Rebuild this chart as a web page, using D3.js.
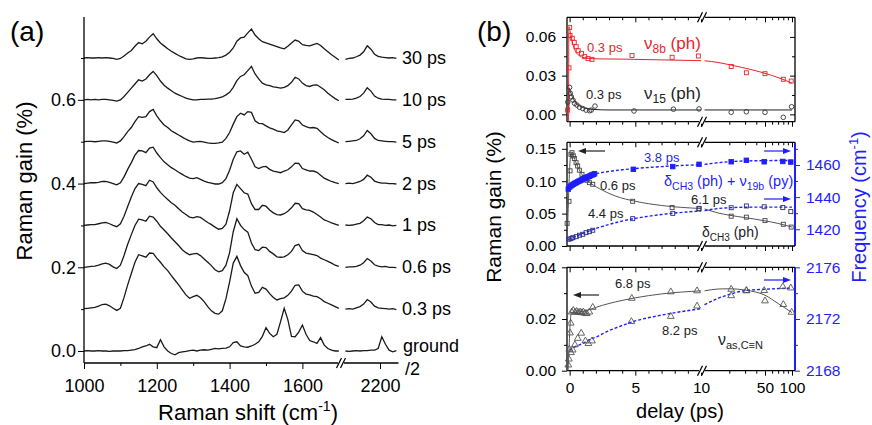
<!DOCTYPE html>
<html>
<head>
<meta charset="utf-8">
<script src="https://cdn.jsdelivr.net/npm/d3@7"></script>
<style>
body { margin: 0; background: #fff; }
svg text { font-family: "Liberation Sans", Arial, sans-serif; }
</style>
</head>
<body>
<div id="chart"></div>
<script>
///////////// Data: panel (a) spectra //////////////
// gain above each trace's baseline (%), read every 10 cm-1
var shift_left = d3.range(1000, 1701, 10);   // 1000..1700
var shift_right = d3.range(2105, 2251, 10);  // 2105..2245

var trace_labels = ['ground', '0.3 ps', '0.6 ps', '1 ps', '2 ps', '5 ps', '10 ps', '30 ps'];
var trace_offsets = [0.0, 0.1, 0.2, 0.3, 0.4, 0.5, 0.6, 0.7];

var g0L = [
0.000,0.001,0.000,0.000,0.001,0.000,0.000,-0.001,0.000,0.000,
0.000,0.001,0.001,0.002,0.003,0.006,0.010,0.012,0.016,0.010,
0.008,0.027,0.010,0.000,-0.006,-0.009,-0.004,-0.002,-0.001,0.001,
0.002,0.000,0.002,0.003,0.002,0.004,0.006,0.005,0.006,0.007,
0.010,0.020,0.022,0.012,0.010,0.009,0.012,0.016,0.022,0.035,
0.056,0.042,0.034,0.040,0.070,0.102,0.075,0.035,0.034,0.045,
0.062,0.040,0.025,0.022,0.018,0.032,0.014,0.006,0.002,0.000,
0.000];
var t03L = [
0.001,0.002,0.003,0.004,0.007,0.011,0.012,0.008,0.002,-0.003,
0.002,0.028,0.058,0.085,0.112,0.130,0.127,0.124,0.134,0.133,
0.122,0.112,0.101,0.092,0.080,0.069,0.058,0.046,0.034,0.026,
0.030,0.033,0.027,0.018,0.006,-0.004,-0.010,-0.012,-0.004,0.025,
0.065,0.110,0.126,0.104,0.088,0.080,0.055,0.038,0.040,0.052,
0.048,0.037,0.028,0.022,0.025,0.027,0.033,0.043,0.057,0.058,
0.043,0.036,0.034,0.031,0.030,0.025,0.018,0.014,0.010,0.006,
0.002];
var t06L = [
0.000,0.001,0.002,0.003,0.005,0.008,0.010,0.007,0.001,-0.003,
0.005,0.028,0.055,0.078,0.100,0.115,0.113,0.110,0.122,0.120,
0.110,0.098,0.089,0.080,0.070,0.061,0.052,0.042,0.035,0.030,
0.032,0.033,0.028,0.020,0.012,0.004,-0.006,-0.011,-0.008,0.005,
0.035,0.085,0.116,0.100,0.090,0.084,0.058,0.042,0.040,0.048,
0.047,0.038,0.032,0.025,0.024,0.025,0.030,0.038,0.052,0.055,
0.040,0.034,0.032,0.030,0.028,0.022,0.018,0.014,0.010,0.005,
0.002];
var t1L = [
0.000,0.001,0.002,0.002,0.004,0.006,0.007,0.004,0.000,-0.003,
0.004,0.022,0.045,0.068,0.088,0.100,0.098,0.095,0.108,0.104,
0.090,0.079,0.070,0.062,0.054,0.048,0.040,0.032,0.026,0.020,
0.018,0.021,0.019,0.013,0.007,0.002,-0.004,-0.009,-0.007,0.003,
0.035,0.078,0.098,0.088,0.078,0.075,0.052,0.038,0.038,0.048,
0.046,0.037,0.030,0.026,0.025,0.028,0.034,0.042,0.053,0.052,
0.040,0.037,0.036,0.032,0.026,0.020,0.013,0.010,0.006,0.003,
0.000];
var t2L = [
0.000,0.001,0.002,0.002,0.003,0.005,0.005,0.003,0.000,-0.003,
0.002,0.016,0.034,0.050,0.068,0.079,0.078,0.074,0.085,0.087,
0.073,0.062,0.052,0.045,0.038,0.033,0.027,0.022,0.017,0.013,
0.012,0.014,0.010,0.006,0.003,0.001,-0.001,-0.001,0.002,0.012,
0.032,0.058,0.076,0.078,0.070,0.075,0.058,0.040,0.036,0.040,
0.041,0.034,0.030,0.028,0.026,0.030,0.033,0.040,0.049,0.048,
0.036,0.033,0.030,0.030,0.027,0.020,0.013,0.009,0.005,0.002,
0.000];
var t5L = [
0.000,0.001,0.001,0.000,0.001,0.002,0.002,0.001,-0.001,-0.003,
0.002,0.012,0.024,0.034,0.048,0.060,0.058,0.060,0.072,0.077,
0.062,0.050,0.040,0.034,0.026,0.021,0.016,0.011,0.006,0.002,
-0.001,0.000,0.001,-0.001,-0.003,-0.004,-0.004,-0.003,-0.001,0.008,
0.022,0.042,0.060,0.068,0.064,0.072,0.070,0.050,0.044,0.043,
0.038,0.033,0.030,0.026,0.024,0.022,0.028,0.040,0.052,0.050,
0.040,0.036,0.033,0.034,0.032,0.024,0.016,0.010,0.005,0.001,
-0.003];
var t10L = [
0.000,0.001,0.000,0.001,0.000,0.001,0.001,0.000,-0.001,-0.003,
0.000,0.008,0.018,0.028,0.038,0.048,0.045,0.050,0.060,0.068,
0.058,0.045,0.035,0.028,0.022,0.016,0.012,0.008,0.004,0.002,
0.000,0.000,0.001,0.001,0.002,0.002,0.003,0.005,0.007,0.012,
0.018,0.030,0.046,0.056,0.060,0.070,0.080,0.062,0.050,0.040,
0.036,0.034,0.031,0.030,0.028,0.030,0.034,0.042,0.054,0.050,
0.040,0.034,0.032,0.035,0.036,0.030,0.024,0.016,0.009,0.003,
-0.002];
var t30L = [
0.000,0.001,0.000,0.000,0.001,0.000,0.001,0.000,-0.001,-0.003,
-0.001,0.005,0.012,0.018,0.028,0.037,0.034,0.040,0.050,0.058,
0.046,0.036,0.029,0.022,0.016,0.011,0.006,0.002,-0.002,-0.003,
-0.002,0.000,0.001,0.000,-0.001,-0.001,0.000,0.001,0.003,0.007,
0.014,0.024,0.040,0.048,0.050,0.060,0.069,0.055,0.046,0.039,
0.036,0.033,0.030,0.027,0.024,0.022,0.028,0.036,0.043,0.040,
0.032,0.030,0.029,0.032,0.035,0.030,0.022,0.015,0.008,0.002,
-0.005];

var g0R  = [0.000,-0.001,0.000,0.001,0.000,0.001,0.001,0.002,0.002,0.006,0.034,0.016,0.002,-0.002,0.001];
var t03R = [0.000,0.001,0.000,0.003,0.006,0.012,0.023,0.017,0.007,0.003,0.002,0.001,0.000,0.001,-0.001];
var t06R = [0.000,0.001,0.001,0.002,0.005,0.011,0.021,0.015,0.006,0.003,0.001,0.002,0.000,0.000,-0.001];
var t1R  = [0.001,0.000,0.001,0.003,0.005,0.011,0.020,0.016,0.007,0.002,0.002,0.000,0.001,-0.001,0.000];
var t2R  = [0.000,0.001,0.000,0.002,0.005,0.010,0.020,0.015,0.006,0.003,0.001,0.001,0.000,0.000,-0.001];
var t5R  = [0.000,0.001,0.002,0.003,0.007,0.014,0.027,0.019,0.008,0.003,0.002,0.001,0.000,0.000,-0.001];
var t10R = [0.001,0.001,0.002,0.004,0.008,0.016,0.029,0.021,0.009,0.004,0.002,0.001,0.001,0.000,0.000];
var t30R = [-0.003,-0.001,0.000,0.003,0.007,0.015,0.029,0.021,0.009,0.004,0.002,0.001,0.000,0.001,-0.001];

var left_sets = [g0L, t03L, t06L, t1L, t2L, t5L, t10L, t30L];
var right_sets = [g0R, t03R, t06R, t1R, t2R, t5R, t10R, t30R];

///////////// Data: panel (b) kinetics //////////////
// [delay (ps), value]
var nu8b_pts = [[-0.15,0.0033],[-0.05,0.036],[0.0,0.0674],[0.03,0.0612],[0.2,0.059],[0.35,0.0558],[0.5,0.0524],[0.65,0.0493],[0.9,0.0473],[1.15,0.0447],[1.4,0.0432],[1.7,0.0426],[4.75,0.0456],[7.8,0.0442],[9.8,0.0452],[21,0.0371],[31,0.0322],[50,0.0315],[80,0.0272],[98,0.0258]];
var nu8b_fit_l = [[-0.08,-0.0057],[-0.06,0.068],[0.1,0.061],[0.2,0.056],[0.35,0.051],[0.5,0.048],[0.8,0.045],[1.2,0.0437],[2,0.043],[4,0.0428],[7,0.0422],[10,0.0416]];
var nu8b_fit_r = [[10.6,0.0415],[15,0.0402],[20,0.0385],[30,0.0358],[50,0.0318],[70,0.0285],[100,0.0242]];

var nu15_pts = [[-0.14,0.0095],[0.0,0.0209],[0.05,0.0163],[0.13,0.0135],[0.26,0.011],[0.38,0.0085],[0.55,0.0072],[0.75,0.0055],[1.0,0.0045],[1.25,0.0033],[1.52,0.0028],[1.65,0.0033],[1.93,0.0064],[4.9,0.0026],[7.9,0.004],[9.85,0.0042],[21,0.0016],[31,0.002],[50,0.0016],[80,-0.0023],[99,0.0059]];
var nu15_fit_l = [[-0.06,0.0034],[-0.04,0.0205],[0.1,0.0165],[0.2,0.0138],[0.3,0.0117],[0.5,0.0088],[0.8,0.0063],[1.2,0.0047],[1.8,0.0038],[3,0.0034],[10,0.0034]];
var nu15_fit_r = [[10.6,0.0034],[100,0.0034]];

var ch3_gain_pts = [[-0.19,0.035],[-0.05,0.069],[0.03,0.116],[0.1,0.1415],[0.18,0.144],[0.28,0.139],[0.36,0.135],[0.49,0.1286],[0.61,0.1235],[0.74,0.117],[0.94,0.1106],[1.12,0.1054],[1.32,0.1014],[1.5,0.0977],[1.76,0.0952],[4.8,0.069],[7.8,0.0595],[9.85,0.0572],[21,0.046],[31,0.0445],[50,0.0392],[80,0.0335],[98,0.0292]];
var ch3_gain_fit_l = [[-0.2,0.003],[-0.12,0.05],[-0.02,0.11],[0.1,0.143],[0.3,0.138],[0.5,0.128],[0.8,0.115],[1.2,0.104],[1.6,0.097],[2.5,0.086],[3.5,0.077],[5,0.069],[7,0.0625],[10,0.0578]];
var ch3_gain_fit_r = [[10.6,0.0572],[15,0.051],[20,0.0475],[30,0.0438],[50,0.0388],[70,0.0348],[100,0.0292]];

var mix_freq_pts = [[-0.1,1445.0],[0,1446.3],[0.1,1447.0],[0.2,1447.6],[0.3,1448.1],[0.4,1448.6],[0.5,1449.0],[0.6,1449.5],[0.7,1449.9],[0.8,1450.3],[0.9,1450.7],[1.0,1451.1],[1.1,1451.5],[1.2,1451.9],[1.3,1452.3],[1.4,1452.7],[1.5,1453.0],[1.6,1453.4],[1.7,1453.8],[1.8,1454.1],[1.9,1454.5],[4.85,1457.3],[7.85,1459.0],[9.85,1460.4],[21,1462.0],[31,1462.9],[49,1462.0],[79,1462.2],[97,1461.8]];
var mix_freq_fit_l = [[0,1446],[0.5,1449],[1,1451],[2,1454.4],[3,1456],[4,1457],[5,1457.8],[7,1459],[10,1460.2]];
var mix_freq_fit_r = [[10.6,1460.4],[15,1461.4],[20,1462],[30,1462.5],[50,1462.7],[100,1462.8]];

var ch3_freq_pts = [[-0.05,1413.8],[0.1,1414.2],[0.25,1414.8],[0.5,1415.4],[0.75,1416.3],[1.0,1416.9],[1.25,1417.9],[1.5,1418.5],[1.76,1419.4],[4.8,1426.6],[7.85,1429.9],[9.85,1433.0],[21,1433.4],[31,1434.5],[49,1434.0],[79,1433.5],[97,1431.0]];
var ch3_freq_fit_l = [[-0.1,1413.6],[1,1417.4],[2,1420.5],[3,1423],[4,1425.1],[5,1426.8],[6,1428.1],[7,1429.2],[8,1430.1],[10,1431.4]];
var ch3_freq_fit_r = [[10.6,1431.6],[15,1432.9],[20,1433.4],[30,1433.7],[50,1433.8],[100,1433.8]];

var cn_gain_pts = [[-0.1,0.0022],[-0.06,0.0045],[-0.02,0.0083],[0.03,0.0146],[0.08,0.0184],[0.16,0.0227],[0.28,0.0233],[0.42,0.0226],[0.54,0.0229],[0.68,0.0225],[0.8,0.0227],[0.92,0.0224],[1.04,0.0227],[1.18,0.0222],[1.3,0.0221],[1.5,0.0227],[1.76,0.0245],[4.73,0.028],[7.7,0.0305],[9.7,0.0309],[21,0.0315],[31,0.0309],[50,0.027],[80,0.0256],[99,0.0226]];
var cn_gain_fit_l = [[-0.12,0.0],[-0.05,0.008],[0.05,0.019],[0.15,0.0225],[0.5,0.0226],[1,0.0229],[1.5,0.0236],[2,0.0245],[3,0.026],[4,0.0272],[5,0.0282],[7,0.0297],[10,0.0309]];
var cn_gain_fit_r = [[10.6,0.0309],[15,0.0316],[20,0.0317],[30,0.0312],[50,0.0292],[70,0.026],[100,0.0225]];

var cn_freq_pts = [[0.1,2169.4],[0.23,2169.6],[0.4,2170.0],[0.62,2170.5],[0.88,2170.9],[1.2,2170.3],[1.43,2170.1],[1.7,2170.3],[4.7,2171.8],[7.7,2172.2],[9.7,2173.0],[21,2173.8],[31,2174.2],[49,2174.2],[79,2174.5],[97,2174.4]];
var cn_freq_fit_l = [[0,2169.6],[0.5,2169.9],[1,2170.1],[1.5,2170.4],[2,2170.6],[3,2171.1],[4,2171.5],[5,2171.85],[7,2172.3],[10,2172.8]];
var cn_freq_fit_r = [[10.6,2173.1],[15,2173.6],[20,2173.9],[30,2174.2],[50,2174.3],[100,2174.4]];

///////////// Setup //////////////
const RED = '#e8232b', BLUE = '#1e1eff', GRAY = '#555';

var svg = d3.select('#chart').append('svg')
  .attr('width', 872)
  .attr('height', 425);

function rich(g, x, y, parts, fill){
  var t = g.append('text').attr('x', x).attr('y', y).attr('fill', fill);
  parts.forEach(function(p){
    t.append('tspan').attr('font-size', p[1]).attr('dy', p[2] || 0).text(p[0]);
  });
  return t;
}

function breakMark(g, x, y){
  g.append('rect').attr('x', x - 3).attr('y', y - 2).attr('width', 6).attr('height', 4).attr('fill', '#fff');
  [-2, 2].forEach(function(dx){
    g.append('line').attr('x1', x + dx - 2.5).attr('y1', y + 5).attr('x2', x + dx + 2.5).attr('y2', y - 5)
      .attr('stroke', '#000').attr('stroke-width', 1.2);
  });
}

///////////// Panel (a) //////////////
var a_xl = d3.scaleLinear().domain([1000, 1700]).range([84, 338.8]);
var a_xr = d3.scaleLinear().domain([2100, 2250]).range([343.6, 398.2]);
var a_y = d3.scaleLinear().domain([-0.0287, 0.798]).range([363, 17]);

var pa = svg.append('g').attr('class', 'panel_a');

var lineL = d3.line().x(d => a_xl(d[0])).y(d => a_y(d[1]));
var lineR = d3.line().x(d => a_xr(d[0])).y(d => a_y(d[1]));

left_sets.forEach(function(vals, i){
  var off = trace_offsets[i];
  pa.append('path')
    .attr('d', lineL(shift_left.map((w, j) => [w, vals[j] + off])))
    .attr('fill', 'none').attr('stroke', '#1a1a1a').attr('stroke-width', 1.3);
  pa.append('path')
    .attr('d', lineR(shift_right.map((w, j) => [w, right_sets[i][j] + off])))
    .attr('fill', 'none').attr('stroke', '#1a1a1a').attr('stroke-width', 1.3);
  if (i > 0) {
    pa.append('text').attr('x', 402).attr('y', a_y(off) + 6)
      .attr('font-size', 18).text(trace_labels[i]);
  }
});
pa.append('text').attr('x', 403).attr('y', 352).attr('font-size', 18).text('ground');
pa.append('text').attr('x', 405).attr('y', 375).attr('font-size', 18).text('/2');

// axes
var ax_g = pa.append('g').attr('transform', 'translate(0,363)');
ax_g.call(d3.axisBottom(a_xl).tickValues([1000, 1200, 1400, 1600]).tickFormat(d3.format('d')).tickSize(6).tickPadding(10));
ax_g.append('g').call(d3.axisBottom(a_xr).tickValues([2200]).tickFormat(d3.format('d')).tickSize(6).tickPadding(10));
ax_g.append('g').call(d3.axisBottom(a_xl).tickValues([1100, 1300, 1500]).tickSize(3).tickFormat(''));
ax_g.selectAll('.domain').remove();
ax_g.selectAll('text').attr('font-size', 18);

var ay_g = pa.append('g').attr('transform', 'translate(84,0)');
ay_g.call(d3.axisLeft(a_y).tickValues([0, 0.2, 0.4, 0.6]).tickFormat(d3.format('.1f')).tickSize(6).tickPadding(2));
ay_g.append('g').call(d3.axisLeft(a_y).tickValues([0.1, 0.3, 0.5, 0.7]).tickSize(3).tickFormat(''));
ay_g.selectAll('.domain').remove();
ay_g.selectAll('text').attr('font-size', 18);

pa.append('line').attr('x1', 84).attr('x2', 84).attr('y1', 17).attr('y2', 363).attr('stroke', '#000').attr('stroke-width', 1.3);
pa.append('line').attr('x1', 84).attr('x2', 398.5).attr('y1', 363).attr('y2', 363).attr('stroke', '#000').attr('stroke-width', 1.3);
breakMark(pa, 341, 363);

pa.append('text').attr('x', 10).attr('y', 41).attr('font-size', 28).text('(a)');
pa.append('text').attr('transform', 'translate(32,181) rotate(-90)').attr('text-anchor', 'middle')
  .attr('font-size', 22).text('Raman gain (%)');
rich(pa, 248, 420, [['Raman shift (cm', 22], ['-1', 14, -9], [')', 22, 9]], '#000').attr('text-anchor', 'middle');

///////////// Panel (b) //////////////
var b_xlin = d3.scaleLinear().domain([-0.2, 10]).range([567, 701]);
var b_xlog = d3.scaleLog().domain([10, 110]).range([702.3, 795.7]);
function bx(t){ return t <= 10 ? b_xlin(t) : b_xlog(t); }

var pb = svg.append('g').attr('class', 'panel_b');

var b1_y = d3.scaleLinear().domain([-0.0057, 0.0752]).range([121.7, 17.3]);
var b2_y = d3.scaleLinear().domain([0, 0.16]).range([246, 142.3]);
var b2_yr = d3.scaleLinear().domain([1409.6, 1474.1]).range([246, 142.3]);
var b3_y = d3.scaleLinear().domain([0, 0.04]).range([370.7, 267.3]);
var b3_yr = d3.scaleLinear().domain([2168, 2176]).range([370.7, 267.3]);

var frames = [
  {y: b1_y, major: [0, 0.03, 0.06], minor: [0.015, 0.045]},
  {y: b2_y, major: [0, 0.05, 0.10, 0.15], minor: [0.025, 0.075, 0.125],
   yr: b2_yr, rmajor: [1420, 1440, 1460], rminor: [1430, 1450, 1470]},
  {y: b3_y, major: [0, 0.02, 0.04], minor: [0.01, 0.03],
   yr: b3_yr, rmajor: [2168, 2172, 2176], rminor: [2170, 2174]}
];

frames.forEach(function(f, k){
  var top = f.y.range()[1], bot = f.y.range()[0];
  // x ticks (top and bottom edges, all hang downward)
  [top, bot].forEach(function(yy){
    var g = pb.append('g').attr('transform', 'translate(0,' + yy + ')');
    g.call(d3.axisBottom(b_xlin).tickValues([0, 5, 10]).tickSize(5).tickFormat(''));
    g.append('g').call(d3.axisBottom(b_xlin).tickValues([1, 2, 3, 4, 6, 7, 8, 9]).tickSize(3).tickFormat(''));
    g.append('g').call(d3.axisBottom(b_xlog).tickValues([50, 100]).tickSize(5).tickFormat(''));
    g.append('g').call(d3.axisBottom(b_xlog).tickValues([20, 30, 40, 60, 70, 80, 90]).tickSize(3).tickFormat(''));
    g.selectAll('.domain').remove();
    g.selectAll('line').attr('stroke-width', 1);
  });
  // left axis
  var gl = pb.append('g').attr('transform', 'translate(567,0)');
  gl.call(d3.axisLeft(f.y).tickValues(f.major).tickFormat(d3.format('.2f')).tickSize(5).tickPadding(6));
  gl.append('g').call(d3.axisLeft(f.y).tickValues(f.minor).tickSize(3).tickFormat(''));
  gl.selectAll('.domain').remove();
  gl.selectAll('text').attr('font-size', 15.5);
  // right axis
  var gr = pb.append('g').attr('transform', 'translate(795,0)');
  if (f.yr) {
    gr.attr('color', BLUE);
    gr.call(d3.axisRight(f.yr).tickValues(f.rmajor).tickFormat(d3.format('d')).tickSize(5).tickPadding(6));
    gr.append('g').call(d3.axisRight(f.yr).tickValues(f.rminor).tickSize(3).tickFormat(''));
    gr.selectAll('text').attr('font-size', 15.5).attr('fill', BLUE);
  } else {
    gr.call(d3.axisLeft(f.y).tickValues(f.major).tickSize(5).tickFormat(''));
    gr.append('g').call(d3.axisLeft(f.y).tickValues(f.minor).tickSize(3).tickFormat(''));
  }
  gr.selectAll('.domain').remove();
  // frame
  pb.append('line').attr('x1', 567).attr('x2', 567).attr('y1', top).attr('y2', bot).attr('stroke', '#000').attr('stroke-width', 1.3);
  pb.append('line').attr('x1', 795).attr('x2', 795).attr('y1', top).attr('y2', bot)
    .attr('stroke', f.yr ? BLUE : '#000').attr('stroke-width', f.yr ? 2 : 1.3);
  [top, bot].forEach(function(yy){
    pb.append('line').attr('x1', 567).attr('x2', 795).attr('y1', yy).attr('y2', yy).attr('stroke', '#000').attr('stroke-width', 1.3);
    breakMark(pb, 702, yy);
  });
});

// x tick labels under bottom frame
var xl_g = pb.append('g').attr('transform', 'translate(0,370.7)');
xl_g.append('g').call(d3.axisBottom(b_xlin).tickValues([0, 5, 10]).tickSize(5).tickPadding(6));
xl_g.append('g').call(d3.axisBottom(b_xlog).tickValues([50, 100]).tickFormat(d3.format('d')).tickSize(5).tickPadding(6));
xl_g.selectAll('.domain').remove();
xl_g.selectAll('text').attr('font-size', 15.5);
xl_g.selectAll('line').remove();

// data layers
function drawFit(yscale, left, right, color, dash, width){
  var l1 = d3.line().x(d => b_xlin(d[0])).y(d => yscale(d[1])).curve(d3.curveMonotoneX);
  var l2 = d3.line().x(d => b_xlog(d[0])).y(d => yscale(d[1])).curve(d3.curveMonotoneX);
  [[l1, left], [l2, right]].forEach(function(p){
    pb.append('path').attr('d', p[0](p[1])).attr('fill', 'none')
      .attr('stroke', color).attr('stroke-width', width || 1)
      .attr('stroke-dasharray', dash || null);
  });
}
function drawSquares(yscale, pts, color, filled, s){
  pb.append('g').selectAll('rect').data(pts).join('rect')
    .attr('x', d => bx(d[0]) - s / 2).attr('y', d => yscale(d[1]) - s / 2)
    .attr('width', s).attr('height', s)
    .attr('fill', filled ? color : 'none').attr('stroke', color).attr('stroke-width', 0.9);
}
function drawCircles(yscale, pts, color){
  pb.append('g').selectAll('circle').data(pts).join('circle')
    .attr('cx', d => bx(d[0])).attr('cy', d => yscale(d[1])).attr('r', 2.3)
    .attr('fill', 'none').attr('stroke', color).attr('stroke-width', 0.9);
}
function drawTriangles(yscale, pts, color){
  pb.append('g').selectAll('path').data(pts).join('path')
    .attr('d', d3.symbol().type(d3.symbolTriangle).size(20))
    .attr('transform', d => 'translate(' + bx(d[0]) + ',' + yscale(d[1]) + ')')
    .attr('fill', 'none').attr('stroke', color).attr('stroke-width', 0.9);
}

// top panel
drawFit(b1_y, nu15_fit_l, nu15_fit_r, '#222', null, 1);
drawFit(b1_y, nu8b_fit_l, nu8b_fit_r, RED, null, 1);
drawCircles(b1_y, nu15_pts, '#333');
drawSquares(b1_y, nu8b_pts, RED, false, 4);

// middle panel
drawFit(b2_y, ch3_gain_fit_l, ch3_gain_fit_r, GRAY, null, 1);
drawFit(b2_yr, mix_freq_fit_l, mix_freq_fit_r, BLUE, '3,2', 1.4);
drawFit(b2_yr, ch3_freq_fit_l, ch3_freq_fit_r, BLUE, '3,2', 1.4);
drawSquares(b2_y, ch3_gain_pts, '#444', false, 4);
drawSquares(b2_yr, ch3_freq_pts, '#2a2a8a', false, 4);
drawSquares(b2_yr, mix_freq_pts, BLUE, true, 4.5);

// bottom panel
drawFit(b3_y, cn_gain_fit_l, cn_gain_fit_r, GRAY, null, 1);
drawFit(b3_yr, cn_freq_fit_l, cn_freq_fit_r, BLUE, '3,2', 1.4);
drawTriangles(b3_y, cn_gain_pts, GRAY);
drawTriangles(b3_yr, cn_freq_pts, GRAY);

// arrows
function arrow(x1, x2, y, color){
  var dir = x2 > x1 ? 1 : -1;
  pb.append('line').attr('x1', x1).attr('x2', x2 - dir * 6).attr('y1', y).attr('y2', y)
    .attr('stroke', color).attr('stroke-width', 1.2);
  pb.append('path').attr('d', 'M' + x2 + ',' + y + 'L' + (x2 - dir * 8) + ',' + (y - 3) + 'L' + (x2 - dir * 8) + ',' + (y + 3) + 'Z')
    .attr('fill', color);
}
arrow(605, 578, 151, '#222');
arrow(599, 573, 295, '#222');
arrow(764, 791, 151, BLUE);
arrow(764, 791, 199, BLUE);
arrow(764, 791, 280, BLUE);

// annotations
rich(pb, 587, 52, [['0.3 ps', 13]], RED);
rich(pb, 644, 49, [['\u03bd', 17], ['8b', 12, 4], [' (ph)', 17, -4]], RED);
rich(pb, 586, 99, [['0.3 ps', 13]], '#222');
rich(pb, 644, 99, [['\u03bd', 17], ['15', 12, 4], [' (ph)', 17, -4]], '#222');
rich(pb, 644, 162, [['3.8 ps', 13]], BLUE);
rich(pb, 600, 190, [['0.6 ps', 13]], '#222');
rich(pb, 664, 186, [['\u03b4', 14.5], ['CH3', 10.5, 4], [' (ph) + ', 14.5, -4], ['\u03bd', 14.5], ['19b', 10.5, 4], [' (py)', 14.5, -4]], BLUE);
rich(pb, 691, 204, [['6.1 ps', 13]], '#222');
rich(pb, 588, 218, [['4.4 ps', 13]], '#222');
rich(pb, 702, 237, [['\u03b4', 14], ['CH3', 10, 4], [' (ph)', 14, -4]], '#222');
rich(pb, 615, 288, [['6.8 ps', 13]], '#222');
rich(pb, 662, 335, [['8.2 ps', 13]], '#222');
rich(pb, 718, 345, [['\u03bd', 16], ['as,C\u2261N', 11, 4]], '#222');

// titles
pb.append('text').attr('x', 477).attr('y', 41).attr('font-size', 28).text('(b)');
pb.append('text').attr('transform', 'translate(501,207) rotate(-90)').attr('text-anchor', 'middle')
  .attr('font-size', 21).text('Raman gain (%)');
rich(pb, 0, 0, [['Frequency (cm', 20], ['-1', 13, -8], [')', 20, 8]], BLUE)
  .attr('transform', 'translate(866,207) rotate(-90)').attr('text-anchor', 'middle');
pb.append('text').attr('x', 680).attr('y', 418).attr('text-anchor', 'middle').attr('font-size', 20).text('delay (ps)');
</script>
</body>
</html>
